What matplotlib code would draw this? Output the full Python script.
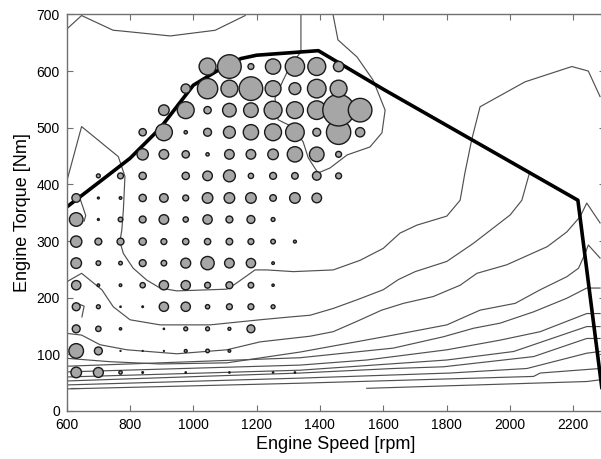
import numpy as np
import matplotlib
matplotlib.use("Agg")
import matplotlib.pyplot as plt

plt.rcParams['font.family'] = ['Liberation Sans', 'DejaVu Sans']

# bubble grid: engine speed columns and torque rows
speed = [630, 700, 770, 840, 907, 976, 1045, 1114, 1182, 1252, 1321, 1390, 1459, 1527]
torque = [68, 106, 145, 184, 222, 261, 299, 338, 376, 415, 453, 492, 531, 569, 608]

# bubble diameter (px) per torque row (bottom -> top), per speed column
diam = [
    [12, 11.3, 4.7, 3, 0, 2.7, 0, 2.7, 0, 2.7, 2.7, 0, 0, 0],
    [16, 9.3, 2.3, 2.3, 2.3, 4.3, 5, 4, 0, 0, 0, 0, 0, 0],
    [9.3, 6.7, 3.7, 0, 2.7, 5.3, 5.3, 4.3, 9.3, 0, 0, 0, 0, 0],
    [9.3, 5.3, 2.7, 3, 10.7, 10.7, 5.7, 7.3, 7.3, 5.3, 0, 0, 0, 0],
    [10.7, 4, 4, 6.7, 10.7, 10.7, 7.3, 8.3, 7, 3.7, 0, 0, 0, 0],
    [12, 6, 5, 8.3, 7, 11.3, 14.7, 11, 10.7, 4, 0, 0, 0, 0],
    [12.7, 8.3, 8.3, 8.7, 7.3, 7.7, 7.7, 8, 7.3, 6, 4.3, 0, 0, 0],
    [15, 3.3, 6, 8.3, 11, 6.7, 10.7, 8.3, 9.3, 5.3, 0, 0, 0, 0],
    [10, 3.3, 4, 8.7, 10, 7.3, 12, 12, 12, 8, 12, 11, 0, 0],
    [0, 5.3, 7.3, 8.7, 0, 8.7, 11, 13.3, 6.7, 8.3, 8, 10, 7.3, 0],
    [0, 0, 0, 12.7, 11, 8.7, 4.7, 11, 11, 12, 16.7, 16, 7.3, 0],
    [0, 0, 0, 8.7, 18.3, 4.7, 9.3, 13.3, 16.7, 18.3, 20, 9.3, 25.7, 10.7],
    [0, 0, 0, 0, 12, 18.3, 8.7, 15, 16, 19.3, 18.3, 20, 33, 25],
    [0, 0, 0, 0, 0, 10.7, 21.7, 18.3, 25, 17.3, 13.3, 20, 18.3, 0],
    [0, 0, 0, 0, 0, 0, 18.3, 25, 7.3, 16.7, 20.7, 19.3, 11.7, 0],
]

# full-load (max torque) curve
max_speed = [600, 705, 800, 895, 1000, 1074, 1150, 1200, 1395, 1600, 2215, 2300]
max_torque = [360, 405, 446, 499, 575, 600, 622, 628, 636, 568, 372, 0]

# efficiency contours (speed list, torque list)
contours = [
    ([600, 647, 747, 768, 927, 1069, 1164],
     [674, 698, 672, 671, 662, 672, 698]),
    ([1340, 1340, 1306, 1284, 1258, 1268, 1315, 1347, 1363, 1394, 1432, 1486, 1558, 1596, 1606, 1568, 1517, 1457, 1441],
     [701, 634, 609, 584, 552, 514, 501, 475, 447, 420, 429, 452, 466, 491, 531, 584, 625, 655, 701]),
    ([600, 647, 763, 784, 779, 774, 768, 779, 810, 853, 895, 948, 1106, 1132, 1195, 1232, 1316, 1442, 1527, 1600, 1653, 1706, 1801, 1843, 1858, 1880, 1906, 2048, 2196, 2248, 2285],
     [405, 502, 449, 414, 355, 319, 299, 278, 252, 231, 217, 212, 215, 224, 249, 249, 246, 249, 266, 287, 314, 328, 344, 372, 420, 480, 537, 581, 608, 600, 555]),
    ([600, 647, 711, 747, 800, 895, 1053, 1211, 1306, 1369, 1442, 1516, 1600, 1648, 1701, 1801, 1885, 2001, 2038, 2062],
     [228, 243, 214, 184, 161, 152, 152, 161, 166, 169, 181, 196, 214, 232, 246, 264, 296, 346, 372, 420]),
    ([600, 647, 705, 790, 948, 1106, 1211, 1369, 1442, 1516, 1595, 1664, 1758, 1843, 1896, 1990, 2118, 2180, 2222, 2243, 2285],
     [137, 134, 117, 108, 101, 108, 122, 132, 140, 158, 178, 190, 202, 222, 243, 258, 290, 316, 343, 367, 332]),
    ([600, 737, 895, 1106, 1337, 1632, 1801, 1906, 2017, 2096, 2180, 2217, 2238, 2248, 2285],
     [93, 87, 83, 85, 104, 134, 152, 178, 190, 214, 237, 252, 278, 293, 270]),
    ([600, 1337, 1632, 1790, 1885, 1969, 2075, 2180, 2243, 2285],
     [79, 94, 111, 131, 146, 155, 175, 199, 217, 217]),
    ([600, 1337, 1548, 1801, 1969, 2096, 2243, 2285],
     [69, 81, 90, 108, 125, 140, 172, 172]),
    ([600, 1337, 1801, 2012, 2243, 2285],
     [60, 72, 90, 105, 149, 149]),
    ([600, 1337, 1632, 1790, 2075, 2243, 2285],
     [53, 67, 75, 78, 96, 128, 128]),
    ([600, 1337, 1811, 2054, 2243, 2285],
     [46, 58, 67, 75, 102, 105]),
    ([600, 1337, 2075, 2096, 2285],
     [39, 49, 61, 67, 75]),
    ([1548, 2243, 2285],
     [40, 52, 55]),
    # small fragments near the left edge
    ([640, 650, 660, 655], [378, 362, 345, 335]),
    ([642, 655, 648], [188, 185, 166]),
    ([612, 640], [41, 41]),
]

fig = plt.figure(figsize=(6.01, 4.59), dpi=100)
ax = fig.add_axes([0.111, 0.1046, 0.8953, 0.864])

for xs, ys in contours:
    ax.plot(xs, ys, color='#505050', lw=0.85, zorder=1)

ax.plot(max_speed, max_torque, color='black', lw=2.6, zorder=2, solid_capstyle='butt')

px_to_pt = 72.0 / fig.dpi
X, Y, S = [], [], []
for i, t in enumerate(torque):
    for j, n in enumerate(speed):
        d = diam[i][j]
        if d > 0:
            X.append(n)
            Y.append(t)
            S.append((max(d - 1.4, 0.8) * px_to_pt) ** 2)
ax.scatter(X, Y, s=S, facecolor='#a6a6a6', edgecolor='#1a1a1a', linewidths=1.0, zorder=3)

ax.set_xlim(600, 2300)
ax.set_ylim(0, 700)
ax.set_xticks(range(600, 2201, 200))
ax.set_yticks(range(0, 701, 100))
ax.tick_params(direction='in', top=True, right=True, length=4, width=0.8,
               color='#707070', labelsize=10, pad=5)
for sp in ax.spines.values():
    sp.set_color('#707070')
    sp.set_linewidth(1.0)
ax.set_xlabel('Engine Speed [rpm]', fontsize=13, labelpad=3)
ax.set_ylabel('Engine Torque [Nm]', fontsize=13, labelpad=4)

fig.savefig('out.png', dpi=100)
